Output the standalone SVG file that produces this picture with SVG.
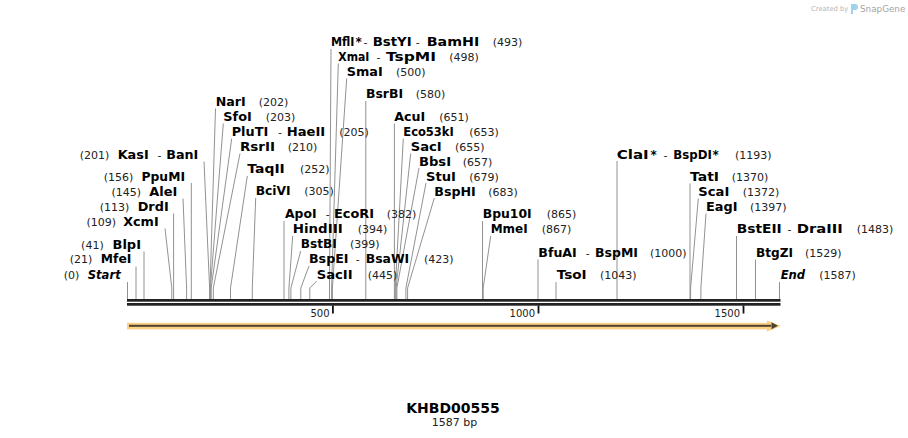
<svg xmlns="http://www.w3.org/2000/svg" width="908" height="438" viewBox="0 0 908 438">
<style>
text{font-family:"DejaVu Sans",Verdana,sans-serif;fill:#000}
.n{font-size:12px;font-weight:bold}
.i{font-size:12px;font-weight:bold;font-style:italic}
.p{font-size:11px;fill:#222}
.d{font-size:11px;fill:#222}
.s{font-size:12px;font-weight:bold}
.e{text-anchor:end}
.t{font-size:10px;fill:#222;text-anchor:end}
#connectors path{fill:none;stroke:#929292;stroke-width:1}
</style>
<rect width="908" height="438" fill="#fff"/>

<g id="logo">
<text x="811" y="11" style="font-size:6.8px;fill:#b5b5b5">Created by</text>
<path d="M851 4 h4 a3 3 0 0 1 0 6 h-2 v4 h-2 z" fill="#9fd3ec"/>
<text x="860" y="11.5" style="font-size:8.8px;fill:#a5a5a5">SnapGene</text>
</g>

<g id="connectors">
<path d="M127.5 282 V299"/>
<path d="M136 266.5 V299"/>
<path d="M144 251.5 V299"/>
<path d="M165 228.5 L171.8 288 V299"/>
<path d="M173.6 213.5 V299"/>
<path d="M183 198.5 L186.6 288 V299"/>
<path d="M191.3 183 V299"/>
<path d="M204 161.5 L209.6 288 V299"/>
<path d="M215.5 108.5 L210 288 V299"/>
<path d="M223.3 123.5 L210.4 288 V299"/>
<path d="M231.7 138.5 L211.2 288 V299"/>
<path d="M240 153.5 L213.3 288 V299"/>
<path d="M247.3 176 L230.5 288 V299"/>
<path d="M255.7 198 L252.3 288 V299"/>
<path d="M284 221 V299"/>
<path d="M292.7 236 L288.9 288 V299"/>
<path d="M300.7 251 L290.9 288 V299"/>
<path d="M309 266 L300.8 288 V299"/>
<path d="M316.7 281 L309.8 288 V299"/>
<path d="M331 49 L329.5 288 V299"/>
<path d="M338.3 63.5 L331.6 288 V299"/>
<path d="M346.7 78.5 L332.4 288 V299"/>
<path d="M365.8 101 V299"/>
<path d="M394.4 123.5 V299"/>
<path d="M403.3 138.5 L395.3 288 V299"/>
<path d="M410.7 153.5 L396.1 288 V299"/>
<path d="M419 168 L396.9 288 V299"/>
<path d="M426 183 L405.9 288 V299"/>
<path d="M434.3 198 L407.6 288 V299"/>
<path d="M482.5 221 V299"/>
<path d="M490.7 236 L483.2 288 V299"/>
<path d="M538 259.5 V299"/>
<path d="M556 282 V299"/>
<path d="M617 161 V299"/>
<path d="M690 183.5 V299"/>
<path d="M698.3 198.5 L690.6 288 V299"/>
<path d="M706 213.5 L700.9 288 V299"/>
<path d="M736.5 236 V299"/>
<path d="M755.5 259.5 V299"/>
<path d="M779.5 282 V299"/>
</g>

<g id="ruler">
<rect x="127" y="299" width="653.5" height="2.7" fill="#222"/>
<rect x="127" y="303" width="653.5" height="2.7" fill="#222"/>
<rect x="332" y="305.5" width="1.8" height="8" fill="#111"/>
<rect x="537.6" y="305.5" width="1.8" height="8" fill="#111"/>
<rect x="742.6" y="305.5" width="1.8" height="8" fill="#111"/>
<text class="t" x="329.5" y="316.5">500</text>
<text class="t" x="535" y="316.5">1000</text>
<text class="t" x="740" y="316.5">1500</text>
</g>

<g id="feature">
<rect x="127" y="322.8" width="646" height="6.6" fill="#fbd083"/>
<polygon points="767,320.5 781,326 767,331.5" fill="#fbd083"/>
<rect x="129" y="324.8" width="642" height="2" fill="#4d4232"/>
<polygon points="771.5,322.3 778,325.8 771.5,329.3" fill="#4d4232"/>
</g>

<g id="n-start"><text class="p e" x="79.3" y="278.5">(0)</text><text class="i e" x="120.7" y="278.5" textLength="33" lengthAdjust="spacingAndGlyphs">Start</text></g>
<g id="n-mfei"><text class="p e" x="92.3" y="263.3">(21)</text><text class="n e" x="131.3" y="263.3" textLength="30.5" lengthAdjust="spacingAndGlyphs">MfeI</text></g>
<g id="n-blpi"><text class="p e" x="103.7" y="248.5">(41)</text><text class="n e" x="141" y="248.5" textLength="28.5" lengthAdjust="spacingAndGlyphs">BlpI</text></g>
<g id="n-xcmi"><text class="p e" x="116" y="225.7">(109)</text><text class="n e" x="158.7" y="225.7" textLength="35.5" lengthAdjust="spacingAndGlyphs">XcmI</text></g>
<g id="n-drdi"><text class="p e" x="129.3" y="210.7">(113)</text><text class="n e" x="168.7" y="210.7" textLength="31" lengthAdjust="spacingAndGlyphs">DrdI</text></g>
<g id="n-alei"><text class="p e" x="141" y="195.7">(145)</text><text class="n e" x="177.3" y="195.7" textLength="28" lengthAdjust="spacingAndGlyphs">AleI</text></g>
<g id="n-ppumi"><text class="p e" x="133.3" y="180.5">(156)</text><text class="n e" x="185" y="180.5" textLength="43.5" lengthAdjust="spacingAndGlyphs">PpuMI</text></g>
<g id="n-kasi"><text class="p e" x="109.3" y="158.5">(201)</text><text class="n e" x="148.7" y="158.5" textLength="31" lengthAdjust="spacingAndGlyphs">KasI</text><text class="d" x="157.5" y="158.5">-</text><text class="n e" x="198.3" y="158.5" textLength="32" lengthAdjust="spacingAndGlyphs">BanI</text></g>

<g id="n-nari"><text class="n" x="215.7" y="105.7" textLength="30" lengthAdjust="spacingAndGlyphs">NarI</text><text class="p" x="258.7" y="105.7">(202)</text></g>
<g id="n-sfoi"><text class="n" x="223.3" y="120.7" textLength="28.5" lengthAdjust="spacingAndGlyphs">SfoI</text><text class="p" x="265.7" y="120.7">(203)</text></g>
<g id="n-pluti"><text class="n" x="231.7" y="135.7" textLength="36.5" lengthAdjust="spacingAndGlyphs">PluTI</text><text class="d" x="278" y="135.7">-</text><text class="n" x="286.7" y="135.7" textLength="38.5" lengthAdjust="spacingAndGlyphs">HaeII</text><text class="p" x="339.3" y="135.7">(205)</text></g>
<g id="n-rsrii"><text class="n" x="240" y="150.7" textLength="35" lengthAdjust="spacingAndGlyphs">RsrII</text><text class="p" x="287.7" y="150.7">(210)</text></g>
<g id="n-taqii"><text class="n" x="247.3" y="173.3" textLength="37.5" lengthAdjust="spacingAndGlyphs">TaqII</text><text class="p" x="300" y="173.3">(252)</text></g>
<g id="n-bcivi"><text class="n" x="255.7" y="195.3" textLength="35" lengthAdjust="spacingAndGlyphs">BciVI</text><text class="p" x="304.3" y="195.3">(305)</text></g>
<g id="n-apoi"><text class="n" x="285" y="218.3" textLength="31.5" lengthAdjust="spacingAndGlyphs">ApoI</text><text class="d" x="325.7" y="218.3">-</text><text class="n" x="334" y="218.3" textLength="40" lengthAdjust="spacingAndGlyphs">EcoRI</text><text class="p" x="386.7" y="218.3">(382)</text></g>
<g id="n-hindiii"><text class="n" x="292.7" y="233.3" textLength="50" lengthAdjust="spacingAndGlyphs">HindIII</text><text class="p" x="357.7" y="233.3">(394)</text></g>
<g id="n-bstbi"><text class="n" x="300.7" y="248.3" textLength="36" lengthAdjust="spacingAndGlyphs">BstBI</text><text class="p" x="350" y="248.3">(399)</text></g>
<g id="n-bspei"><text class="n" x="309" y="263.3" textLength="39.5" lengthAdjust="spacingAndGlyphs">BspEI</text><text class="d" x="355.7" y="263.3">-</text><text class="n" x="365.7" y="263.3" textLength="43.5" lengthAdjust="spacingAndGlyphs">BsaWI</text><text class="p" x="424" y="263.3">(423)</text></g>
<g id="n-sacii"><text class="n" x="316.7" y="278.5" textLength="36" lengthAdjust="spacingAndGlyphs">SacII</text><text class="p" x="367.7" y="278.5">(445)</text></g>
<g id="n-mfli"><text class="n" x="331" y="46" textLength="23.5" lengthAdjust="spacingAndGlyphs">MflI</text><text class="s" x="355.5" y="46">*</text><text class="d" x="363.5" y="46">-</text><text class="n" x="372.7" y="46" textLength="39" lengthAdjust="spacingAndGlyphs">BstYI</text><text class="d" x="415.7" y="46">-</text><text class="n" x="426.7" y="46" textLength="52.5" lengthAdjust="spacingAndGlyphs">BamHI</text><text class="p" x="492.7" y="46">(493)</text></g>
<g id="n-xmai"><text class="n" x="338.3" y="60.8" textLength="31" lengthAdjust="spacingAndGlyphs">XmaI</text><text class="d" x="376.5" y="60.8">-</text><text class="n" x="386" y="60.8" textLength="50" lengthAdjust="spacingAndGlyphs">TspMI</text><text class="p" x="449.3" y="60.8">(498)</text></g>
<g id="n-smai"><text class="n" x="346.7" y="75.7" textLength="36" lengthAdjust="spacingAndGlyphs">SmaI</text><text class="p" x="396" y="75.7">(500)</text></g>
<g id="n-bsrbi"><text class="n" x="366" y="98.3" textLength="37" lengthAdjust="spacingAndGlyphs">BsrBI</text><text class="p" x="415.7" y="98.3">(580)</text></g>
<g id="n-acui"><text class="n" x="394.3" y="120.7" textLength="31" lengthAdjust="spacingAndGlyphs">AcuI</text><text class="p" x="439.3" y="120.7">(651)</text></g>
<g id="n-eco53ki"><text class="n" x="403.3" y="135.7" textLength="50.5" lengthAdjust="spacingAndGlyphs">Eco53kI</text><text class="p" x="469.3" y="135.7">(653)</text></g>
<g id="n-saci"><text class="n" x="410.7" y="150.7" textLength="31" lengthAdjust="spacingAndGlyphs">SacI</text><text class="p" x="455" y="150.7">(655)</text></g>
<g id="n-bbsi"><text class="n" x="419" y="165.5" textLength="32" lengthAdjust="spacingAndGlyphs">BbsI</text><text class="p" x="462.7" y="165.5">(657)</text></g>
<g id="n-stui"><text class="n" x="426" y="180.5" textLength="30" lengthAdjust="spacingAndGlyphs">StuI</text><text class="p" x="469.3" y="180.5">(679)</text></g>
<g id="n-bsphi"><text class="n" x="434.3" y="195.5" textLength="41.5" lengthAdjust="spacingAndGlyphs">BspHI</text><text class="p" x="488.3" y="195.5">(683)</text></g>
<g id="n-bpu10i"><text class="n" x="482.7" y="218.3" textLength="49" lengthAdjust="spacingAndGlyphs">Bpu10I</text><text class="p" x="546.7" y="218.3">(865)</text></g>
<g id="n-mmei"><text class="n" x="490.7" y="233.3" textLength="37" lengthAdjust="spacingAndGlyphs">MmeI</text><text class="p" x="541.7" y="233.3">(867)</text></g>
<g id="n-bfuai"><text class="n" x="538.3" y="256.7" textLength="38.5" lengthAdjust="spacingAndGlyphs">BfuAI</text><text class="d" x="585.7" y="256.7">-</text><text class="n" x="595" y="256.7" textLength="43" lengthAdjust="spacingAndGlyphs">BspMI</text><text class="p" x="650" y="256.7">(1000)</text></g>
<g id="n-tsoi"><text class="n" x="556.7" y="279" textLength="30" lengthAdjust="spacingAndGlyphs">TsoI</text><text class="p" x="600" y="279">(1043)</text></g>
<g id="n-clai"><text class="n" x="616.7" y="158.5" textLength="32" lengthAdjust="spacingAndGlyphs">ClaI</text><text class="s" x="650.5" y="158.5">*</text><text class="d" x="663.5" y="158.5">-</text><text class="n" x="673.3" y="158.5" textLength="38.5" lengthAdjust="spacingAndGlyphs">BspDI</text><text class="s" x="712.5" y="158.5">*</text><text class="p" x="735" y="158.5">(1193)</text></g>
<g id="n-tati"><text class="n" x="690" y="180.7" textLength="29" lengthAdjust="spacingAndGlyphs">TatI</text><text class="p" x="731.7" y="180.7">(1370)</text></g>
<g id="n-scai"><text class="n" x="698.3" y="195.7" textLength="31" lengthAdjust="spacingAndGlyphs">ScaI</text><text class="p" x="742.7" y="195.7">(1372)</text></g>
<g id="n-eagi"><text class="n" x="706" y="210.7" textLength="31.5" lengthAdjust="spacingAndGlyphs">EagI</text><text class="p" x="750" y="210.7">(1397)</text></g>
<g id="n-bsteii"><text class="n" x="736.7" y="233.3" textLength="45" lengthAdjust="spacingAndGlyphs">BstEII</text><text class="d" x="787.5" y="233.3">-</text><text class="n" x="796.7" y="233.3" textLength="46" lengthAdjust="spacingAndGlyphs">DraIII</text><text class="p" x="856.7" y="233.3">(1483)</text></g>
<g id="n-btgzi"><text class="n" x="756" y="256.7" textLength="37" lengthAdjust="spacingAndGlyphs">BtgZI</text><text class="p" x="805" y="256.7">(1529)</text></g>
<g id="n-end"><text class="i" x="780.7" y="279" textLength="24.5" lengthAdjust="spacingAndGlyphs">End</text><text class="p" x="819.3" y="279">(1587)</text></g>

<g id="title">
<text x="453" y="413" text-anchor="middle" style="font-size:14px;font-weight:bold">KHBD00555</text>
<text x="454.5" y="426" text-anchor="middle" style="font-size:11px;fill:#222">1587 bp</text>
</g>
</svg>
